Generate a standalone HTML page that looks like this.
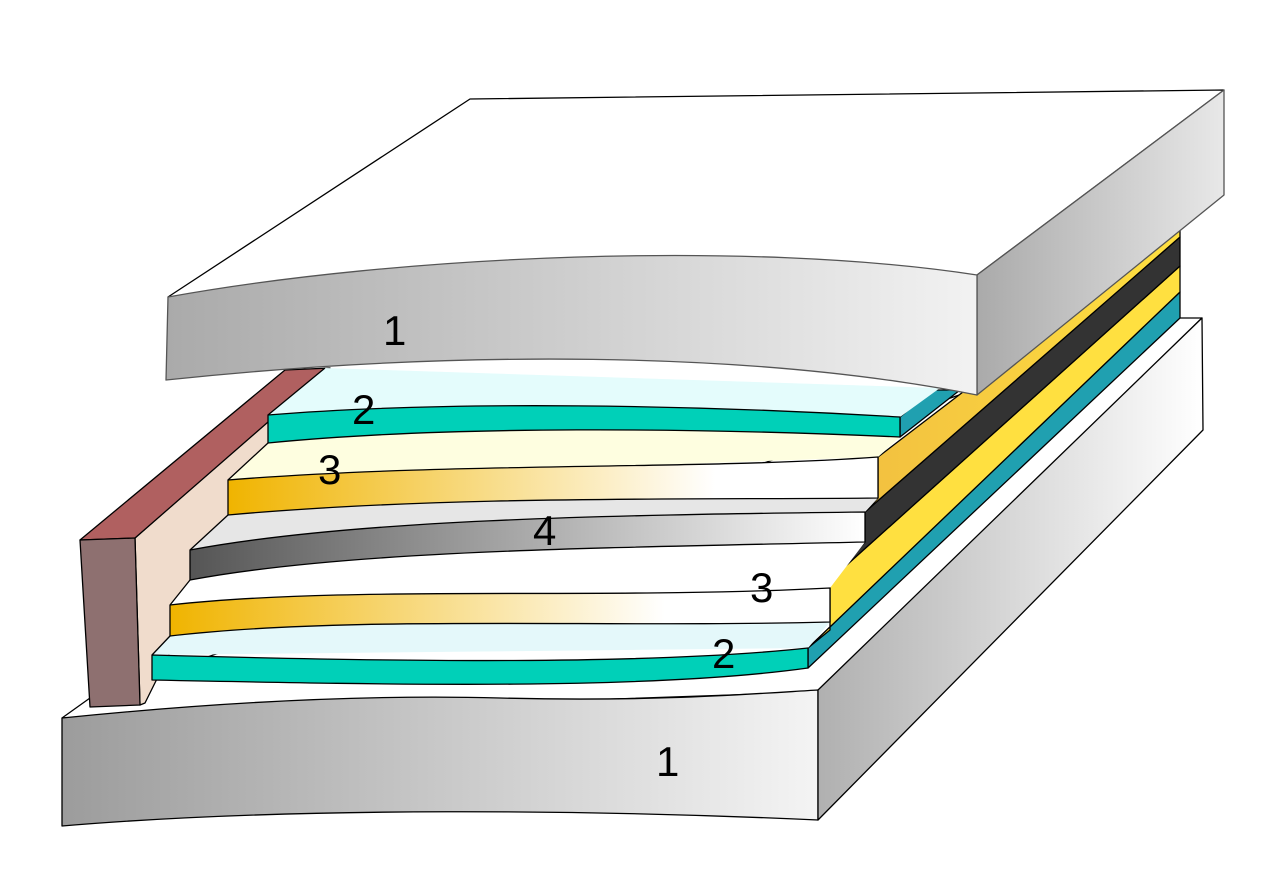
<!DOCTYPE html>
<html><head><meta charset="utf-8"><style>html,body{margin:0;padding:0;background:#fff}svg{display:block}</style></head>
<body>
<svg width="1280" height="882" viewBox="0 0 1280 882" xmlns="http://www.w3.org/2000/svg" font-family="Liberation Sans, sans-serif">
<defs>
<linearGradient id="gplate" x1="0" x2="1" y1="0" y2="0"><stop offset="0" stop-color="#9c9c9c"/><stop offset="1" stop-color="#f4f4f4"/></linearGradient>
<linearGradient id="gtop" x1="0" x2="1"><stop offset="0" stop-color="#aaaaaa"/><stop offset="1" stop-color="#f2f2f2"/></linearGradient>
<linearGradient id="gside" x1="0" x2="1"><stop offset="0" stop-color="#aaaaaa"/><stop offset="1" stop-color="#e8e8e8"/></linearGradient>
<linearGradient id="gside2" x1="0" x2="1"><stop offset="0" stop-color="#b0b0b0"/><stop offset="1" stop-color="#ffffff"/></linearGradient>
<linearGradient id="gor" x1="0" x2="1"><stop offset="0" stop-color="#f0b400"/><stop offset="0.75" stop-color="#fff"/></linearGradient>
<linearGradient id="ggr" x1="0" x2="1"><stop offset="0" stop-color="#555"/><stop offset="1" stop-color="#fff"/></linearGradient>
<linearGradient id="gstripo" x1="0" x2="1"><stop offset="0" stop-color="#f2c040"/><stop offset="1" stop-color="#ffe040"/></linearGradient>
</defs>
<g stroke="#000" stroke-width="1.3" stroke-linejoin="round">
<polygon points="62,718 90,698 1180,318 1202,318 818,692" fill="#fff"/>
<path d="M62,718 C200,704 350,694 500,698 C650,702 750,694 818,690 L818,820 C600,810 300,806 62,826 Z" fill="url(#gplate)"/>
<polygon points="818,690 1202,318 1203,430 818,820" fill="url(#gside2)"/>
<polygon points="808,648 1180,292 1180,318 808,668" fill="#20a0b0"/>
<polygon points="830,580 1180,266 1180,292 808,648 830,630" fill="#ffe040"/>
<polygon points="865,512 1180,237 1180,266 830,580 865,542" fill="#333"/>
<polygon points="878,457 1180,226 1180,237 865,512 878,498" fill="url(#gstripo)"/>
<polygon points="900,417 932,390 960,390 900,437" fill="#20a0b0"/>
<polygon points="135,538 328,368 300,390 145,703 140,705" fill="#f0dccc"/>
<polygon points="80,540 285,370 330,368 135,538" fill="#b06060"/>
<polygon points="80,540 135,538 140,705 90,707" fill="#8e7070"/>
</g>
<g stroke="none">
<path d="M268,415 L325,368 L940,388 L900,417 Z" fill="#e4fcfc"/>
<path d="M228,480 L268,443 C450,425 700,428 900,437 L878,457 Z" fill="#fefee0"/>
<path d="M190,550 L228,515 C450,495 700,500 878,498 L865,512 Z" fill="#e6e6e6"/>
<path d="M170,605 L190,580 C350,550 600,548 865,542 L830,588 Z" fill="#fff"/>
<path d="M152,655 L170,636 C350,615 600,628 830,622 L808,648 Z" fill="#e4f8fa"/>
</g>
<g stroke="#000" stroke-width="1.3" stroke-linejoin="round" fill="none">
<path d="M268,415 L325,368"/>
<path d="M228,480 L268,443"/>
<path d="M190,550 L228,515"/>
<path d="M170,605 L190,580"/>
<path d="M152,655 L170,636"/>
</g>
<g stroke="#000" stroke-width="1.3" stroke-linejoin="round">
<path d="M268,415 C450,400 700,405 900,417 L900,437 C700,428 450,425 268,443 Z" fill="#00d0b8"/>
<path d="M228,480 C450,462 700,470 878,457 L878,498 C700,500 450,495 228,515 Z" fill="url(#gor)"/>
<path d="M190,550 C350,520 600,515 865,512 L865,542 C600,548 350,550 190,580 Z" fill="url(#ggr)"/>
<path d="M170,605 C350,585 600,600 830,588 L830,622 C600,628 350,615 170,636 Z" fill="url(#gor)"/>
<path d="M152,655 C400,662 650,665 808,648 L808,668 C650,690 400,685 152,680 Z" fill="#00d0b8"/>
<polygon points="168,297 470,99 1224,90 977,275" fill="#fff"/>
<polygon points="977,275 1224,90 1224,195 977,395" fill="url(#gside)" stroke="#555"/>
<path d="M168,297 C400,255 750,240 977,275 L977,395 C750,350 450,350 166,380 Z" fill="url(#gtop)" stroke="#555"/>
</g>
<g font-size="42" fill="#000">
<text x="383" y="345">1</text>
<text x="352" y="424">2</text>
<text x="318" y="484">3</text>
<text x="533" y="545">4</text>
<text x="750" y="602">3</text>
<text x="712" y="668">2</text>
<text x="656" y="776">1</text>
</g>
</svg>
</body></html>
